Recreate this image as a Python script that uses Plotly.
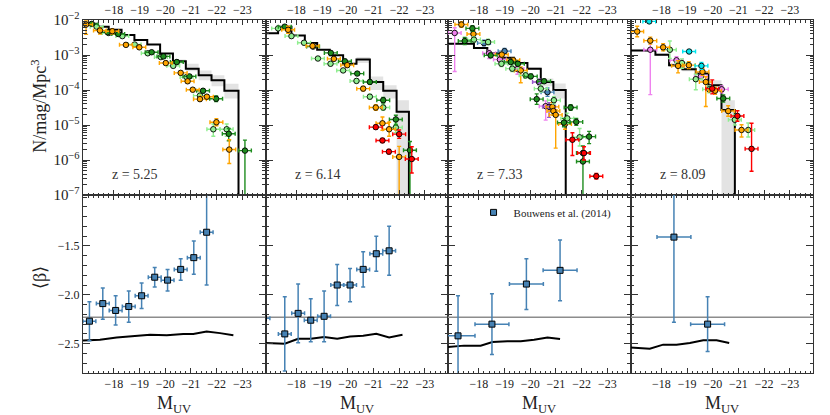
import numpy as np
import plotly.graph_objects as go
from plotly.subplots import make_subplots

FONT = "Liberation Serif"

## Redshift labels ##
z_labels = ["z = 5.25", "z = 6.14", "z = 7.33", "z = 8.09"]

## Model UV LF histograms (bin edges in M_UV, log10 N per bin, shaded band) ##
z1_edges = [-16.8, -17.3, -17.8, -18.3, -18.8, -19.3, -19.8, -20.3, -20.8, -21.3, -21.8, -22.3, -22.85]
z1_hist = [-2.11, -2.19, -2.28, -2.43, -2.57, -2.70, -2.96, -3.18, -3.39, -3.58, -3.72, -4.02]
z1_band_hi = [-2.10, -2.18, -2.27, -2.42, -2.56, -2.69, -2.94, -3.13, -3.25, -3.44, -3.58, -3.82]
z1_band_lo = [-2.12, -2.20, -2.29, -2.44, -2.58, -2.71, -2.98, -3.25, -3.46, -3.72, -3.89, -4.24]

z2_edges = [-16.8, -17.29, -17.81, -18.33, -18.81, -19.3, -19.82, -20.34, -20.86, -21.38, -21.9, -22.38]
z2_hist = [-2.38, -2.19, -2.44, -2.66, -2.85, -3.01, -3.25, -3.13, -3.77, -4.02, -4.62]
z2_band_hi = [-2.37, -2.18, -2.43, -2.65, -2.84, -3.00, -3.23, -3.06, -3.61, -3.86, -4.29]
z2_band_lo = [-2.39, -2.20, -2.45, -2.67, -2.86, -3.02, -3.27, -3.23, -4.00, -4.24, -9.0]

z3_edges = [-16.8, -17.29, -17.81, -18.33, -18.85, -19.37, -19.89, -20.41, -20.9, -21.38]
z3_hist = [-2.68, -2.68, -2.80, -2.95, -3.08, -3.23, -3.39, -3.77, -4.00]
z3_band_hi = [-2.66, -2.66, -2.78, -2.93, -3.06, -3.20, -3.35, -3.67, -3.81]
z3_band_lo = [-2.70, -2.70, -2.82, -2.97, -3.10, -3.26, -3.43, -3.89, -4.24]

z4_edges = [-16.8, -17.3, -17.77, -18.3, -18.82, -19.34, -19.83, -20.34, -20.86]
z4_hist = [-2.87, -2.87, -2.99, -3.29, -3.41, -3.53, -3.86, -4.57]
z4_band_hi = [-2.84, -2.84, -2.95, -3.24, -3.36, -3.48, -3.72, -4.29]
z4_band_lo = [-2.90, -2.90, -3.03, -3.34, -3.46, -3.58, -4.02, -9.0]

## Observed UV LF points (M_UV, log10 phi, upper / lower error in dex) ##
# z = 5.25
z1_orange_m = [-16.92, -17.46, -17.94, -18.47, -18.99, -20.02, -20.60, -20.87, -21.07, -21.35, -21.62, -21.99, -22.49]
z1_orange_lg = [-2.13, -2.30, -2.32, -2.71, -2.78, -3.23, -3.51, -3.75, -3.99, -4.26, -4.19, -4.92, -5.70]
z1_orange_eu = [0.10, 0.08, 0.07, 0.05, 0.06, 0.05, 0.05, 0.05, 0.05, 0.06, 0.06, 0.10, 0.28]
z1_orange_ed = [0.28, 0.10, 0.08, 0.05, 0.06, 0.05, 0.05, 0.05, 0.05, 0.06, 0.06, 0.10, 0.40]
z1_lgreen_m = [-17.33, -17.80, -18.33, -18.81, -19.32, -19.83, -20.31, -20.83, -21.35, -21.87, -22.39]
z1_lgreen_lg = [-2.19, -2.37, -2.46, -2.70, -2.95, -3.06, -3.31, -3.63, -4.16, -5.12, -5.12]
z1_lgreen_eu = [0.05, 0.05, 0.04, 0.04, 0.04, 0.04, 0.05, 0.05, 0.07, 0.15, 0.15]
z1_lgreen_ed = [0.05, 0.05, 0.04, 0.04, 0.04, 0.04, 0.05, 0.05, 0.07, 0.20, 0.20]
z1_dgreen_m = [-17.14, -17.76, -18.17, -19.47, -19.93, -20.45, -20.94, -21.47, -21.98, -22.47, -23.10]
z1_dgreen_lg = [-2.11, -2.35, -2.40, -2.92, -3.04, -3.20, -3.61, -4.02, -4.25, -5.25, -5.73]
z1_dgreen_eu = [0.04, 0.04, 0.04, 0.04, 0.04, 0.05, 0.05, 0.06, 0.08, 0.15, 0.30]
z1_dgreen_ed = [0.04, 0.04, 0.04, 0.04, 0.04, 0.05, 0.05, 0.06, 0.08, 0.20, 3.00]

# z = 6.14
z2_dgreen_m = [-17.55, -18.65, -19.34, -19.89, -20.37, -20.86, -21.38, -21.87, -22.42]
z2_dgreen_lg = [-2.19, -2.76, -2.94, -3.18, -3.53, -3.77, -4.29, -4.84, -5.72]
z2_dgreen_eu = [0.04, 0.04, 0.04, 0.05, 0.05, 0.06, 0.08, 0.12, 0.25]
z2_dgreen_ed = [0.04, 0.04, 0.04, 0.05, 0.05, 0.06, 0.08, 0.15, 3.00]
z2_lgreen_m = [-17.29, -17.81, -18.30, -18.84, -19.33, -19.82, -20.34, -20.86, -21.38, -21.87]
z2_lgreen_lg = [-2.24, -2.46, -2.65, -3.10, -3.25, -3.44, -3.74, -4.19, -4.50, -5.07]
z2_lgreen_eu = [0.05, 0.05, 0.05, 0.05, 0.05, 0.05, 0.06, 0.07, 0.08, 0.12]
z2_lgreen_ed = [0.05, 0.05, 0.05, 0.05, 0.05, 0.05, 0.06, 0.07, 0.08, 0.15]
z2_orange_m = [-17.68, -18.63, -19.46, -19.98, -20.60, -21.09, -21.35, -21.61, -22.00]
z2_orange_lg = [-2.28, -2.74, -3.11, -3.29, -3.96, -4.50, -4.95, -5.12, -5.91]
z2_orange_eu = [0.10, 0.06, 0.05, 0.05, 0.06, 0.08, 0.18, 0.20, 0.30]
z2_orange_ed = [0.10, 0.06, 0.05, 0.05, 0.06, 0.08, 0.20, 0.20, 1.30]
z2_red_m = [-21.09, -21.35, -21.60, -22.00, -22.49]
z2_red_lg = [-5.06, -5.44, -5.76, -5.26, -5.97]
z2_red_eu = [0.06, 0.06, 0.06, 0.12, 0.35]
z2_red_ed = [0.06, 0.06, 0.06, 0.12, 0.40]

# z = 7.33
z3_dgreen_m = [-17.45, -17.75, -18.46, -19.24, -19.52, -20.02, -20.25, -20.54, -21.31, -21.57, -21.79, -22.05, -22.05, -22.29]
z3_dgreen_lg = [-2.60, -2.24, -3.01, -3.20, -3.25, -3.61, -4.26, -3.75, -4.93, -4.50, -4.91, -5.80, -6.04, -5.33]
z3_dgreen_eu = [0.10, 0.08, 0.06, 0.05, 0.05, 0.06, 0.15, 0.06, 0.12, 0.08, 0.10, 0.20, 0.30, 0.15]
z3_dgreen_ed = [0.10, 0.08, 0.06, 0.05, 0.05, 0.06, 0.15, 0.06, 0.12, 0.08, 0.10, 0.20, 3.00, 0.20]
z3_lgreen_m = [-17.81, -18.36, -18.88, -19.30, -19.82, -20.41, -20.92, -21.44, -21.92]
z3_lgreen_lg = [-2.56, -2.63, -3.25, -3.39, -3.58, -3.96, -4.29, -4.81, -5.35]
z3_lgreen_eu = [0.08, 0.08, 0.08, 0.08, 0.08, 0.10, 0.10, 0.15, 0.25]
z3_lgreen_ed = [0.08, 0.08, 0.08, 0.08, 0.08, 0.10, 0.10, 0.15, 0.25]
z3_orange_m = [-17.32, -17.79, -18.89, -19.34, -19.63, -20.86, -20.90, -20.99, -21.35]
z3_orange_lg = [-2.13, -2.40, -2.99, -3.15, -3.44, -4.48, -4.60, -4.71, -4.97]
z3_orange_eu = [0.08, 0.10, 0.06, 0.06, 0.10, 0.12, 0.12, 0.15, 0.15]
z3_orange_ed = [0.08, 0.10, 0.06, 0.06, 0.35, 0.12, 0.12, 0.95, 0.15]
z3_violet_m = [-17.06, -18.40, -18.82, -19.50, -20.60]
z3_violet_lg = [-2.37, -2.95, -3.13, -3.40, -4.46]
z3_violet_eu = [0.15, 0.08, 0.08, 0.10, 0.15]
z3_violet_ed = [1.10, 0.15, 0.10, 0.15, 0.40]
z3_blue_m = [-18.20, -19.00, -20.67]
z3_blue_lg = [-2.66, -2.89, -4.06]
z3_blue_eu = [0.08, 0.08, 0.12]
z3_blue_ed = [0.08, 0.08, 0.12]
z3_purple_m = [-20.34, -20.73]
z3_purple_lg = [-3.77, -4.48]
z3_purple_eu = [0.08, 0.12]
z3_purple_ed = [0.08, 0.30]
z3_red_m = [-21.64, -22.09, -22.57]
z3_red_lg = [-5.42, -5.80, -6.46]
z3_red_eu = [0.20, 0.18, 0.08]
z3_red_ed = [0.45, 0.20, 0.08]

# z = 8.09
z4_orange_m = [-17.06, -17.57, -18.07, -18.65, -19.07, -19.60, -19.73, -20.09, -20.60, -21.12]
z4_orange_lg = [-2.33, -2.59, -2.78, -3.31, -3.29, -3.48, -3.77, -4.02, -4.60, -5.14]
z4_orange_eu = [0.15, 0.10, 0.10, 0.15, 0.10, 0.10, 0.15, 0.10, 0.15, 0.15]
z4_orange_ed = [0.15, 0.10, 0.10, 0.20, 0.10, 0.10, 0.70, 0.10, 0.15, 0.20]
z4_cyan_m = [-17.53, -19.08, -19.56]
z4_cyan_lg = [-2.04, -2.90, -3.31]
z4_cyan_eu = [0.05, 0.05, 0.10]
z4_cyan_ed = [0.05, 0.05, 0.10]
z4_lgreen_m = [-18.33, -18.80, -19.34, -19.86, -20.86, -21.38]
z4_lgreen_lg = [-2.85, -3.23, -3.69, -3.98, -4.85, -5.14]
z4_lgreen_eu = [0.25, 0.12, 0.15, 0.10, 0.15, 0.20]
z4_lgreen_ed = [0.25, 0.15, 0.30, 0.10, 0.15, 0.20]
z4_violet_m = [-17.57, -18.59, -19.54, -20.35]
z4_violet_lg = [-2.85, -3.15, -3.61, -3.98]
z4_violet_eu = [0.28, 0.10, 0.10, 0.10]
z4_violet_ed = [1.28, 0.10, 0.10, 0.10]
z4_dgreen_m = [-20.41]
z4_dgreen_lg = [-4.24]
z4_dgreen_eu = [0.10]
z4_dgreen_ed = [0.10]
z4_red_m = [-19.98, -20.96, -21.51]
z4_red_lg = [-3.96, -4.74, -5.68]
z4_red_eu = [0.25, 0.15, 0.73]
z4_red_ed = [0.15, 0.15, 0.64]

## UV slope: Bouwens et al. (2014) and model ##
b1_m = [-17.05, -17.57, -18.07, -18.58, -19.08, -19.59, -20.09, -20.60, -21.11, -21.61]
b1_beta = [-2.27, -2.09, -2.16, -2.12, -2.01, -1.82, -1.85, -1.74, -1.62, -1.36]
b1_err = [0.20, 0.16, 0.15, 0.16, 0.13, 0.10, 0.11, 0.11, 0.17, 0.54]
b2_m = [-16.72, -17.55, -18.07, -18.56, -19.08, -19.59, -20.09, -20.60, -21.11, -21.61]
b2_beta = [-2.24, -2.40, -2.19, -2.26, -2.22, -1.90, -1.90, -1.74, -1.58, -1.55]
b2_err = [0.27, 0.38, 0.30, 0.22, 0.26, 0.21, 0.17, 0.18, 0.18, 0.25]
b3_m = [-17.19, -18.51, -19.85, -21.16]
b3_beta = [-2.42, -2.30, -1.89, -1.75]
b3_err = [0.41, 0.31, 0.26, 0.31]
b4_m = [-18.49, -19.80]
b4_beta = [-1.41, -2.30]
b4_err = [0.87, 0.28]

mod1_m = [-16.8, -17.46, -18.11, -18.76, -19.41, -20.06, -20.7, -21.09, -21.61, -22.13, -22.65]
mod1_beta = [-2.467, -2.46, -2.436, -2.419, -2.409, -2.413, -2.40, -2.40, -2.375, -2.392, -2.413]
mod2_m = [-16.8, -17.55, -18.07, -18.56, -19.08, -19.59, -20.09, -20.6, -21.11, -21.61, -22.13]
mod2_beta = [-2.493, -2.50, -2.45, -2.45, -2.433, -2.45, -2.426, -2.419, -2.399, -2.436, -2.409]
mod3_m = [-16.8, -17.42, -18.07, -18.53, -19.11, -19.63, -20.15, -20.67, -21.16]
mod3_beta = [-2.534, -2.52, -2.52, -2.483, -2.476, -2.476, -2.46, -2.436, -2.453]
mod4_m = [-16.8, -17.55, -18.07, -18.59, -19.11, -19.63, -20.15, -20.64]
mod4_beta = [-2.538, -2.551, -2.51, -2.51, -2.493, -2.466, -2.466, -2.493]

beta_ref = -2.23
m_ticks = [-18, -19, -20, -21, -22, -23]

colors = dict(orange="#ffa500", lgreen="#90ee90", dgreen="#1e8c1e", red="#ff0000",
              violet="#ee82ee", blue="#4682b4", purple="#9b59d0", cyan="#00e5ee")

panels = [
    dict(edges=z1_edges, hist=z1_hist, hi=z1_band_hi, lo=z1_band_lo,
         pts=[("lgreen", z1_lgreen_m, z1_lgreen_lg, z1_lgreen_eu, z1_lgreen_ed),
              ("dgreen", z1_dgreen_m, z1_dgreen_lg, z1_dgreen_eu, z1_dgreen_ed),
              ("orange", z1_orange_m, z1_orange_lg, z1_orange_eu, z1_orange_ed)],
         bm=b1_m, bb=b1_beta, be=b1_err, bx=0.25, mm=mod1_m, mb=mod1_beta),
    dict(edges=z2_edges, hist=z2_hist, hi=z2_band_hi, lo=z2_band_lo,
         pts=[("lgreen", z2_lgreen_m, z2_lgreen_lg, z2_lgreen_eu, z2_lgreen_ed),
              ("dgreen", z2_dgreen_m, z2_dgreen_lg, z2_dgreen_eu, z2_dgreen_ed),
              ("orange", z2_orange_m, z2_orange_lg, z2_orange_eu, z2_orange_ed),
              ("red", z2_red_m, z2_red_lg, z2_red_eu, z2_red_ed)],
         bm=b2_m, bb=b2_beta, be=b2_err, bx=0.25, mm=mod2_m, mb=mod2_beta),
    dict(edges=z3_edges, hist=z3_hist, hi=z3_band_hi, lo=z3_band_lo,
         pts=[("violet", z3_violet_m, z3_violet_lg, z3_violet_eu, z3_violet_ed),
              ("blue", z3_blue_m, z3_blue_lg, z3_blue_eu, z3_blue_ed),
              ("purple", z3_purple_m, z3_purple_lg, z3_purple_eu, z3_purple_ed),
              ("orange", z3_orange_m, z3_orange_lg, z3_orange_eu, z3_orange_ed),
              ("lgreen", z3_lgreen_m, z3_lgreen_lg, z3_lgreen_eu, z3_lgreen_ed),
              ("dgreen", z3_dgreen_m, z3_dgreen_lg, z3_dgreen_eu, z3_dgreen_ed),
              ("red", z3_red_m, z3_red_lg, z3_red_eu, z3_red_ed)],
         bm=b3_m, bb=b3_beta, be=b3_err, bx=0.66, mm=mod3_m, mb=mod3_beta),
    dict(edges=z4_edges, hist=z4_hist, hi=z4_band_hi, lo=z4_band_lo,
         pts=[("violet", z4_violet_m, z4_violet_lg, z4_violet_eu, z4_violet_ed),
              ("lgreen", z4_lgreen_m, z4_lgreen_lg, z4_lgreen_eu, z4_lgreen_ed),
              ("dgreen", z4_dgreen_m, z4_dgreen_lg, z4_dgreen_eu, z4_dgreen_ed),
              ("orange", z4_orange_m, z4_orange_lg, z4_orange_eu, z4_orange_ed),
              ("cyan", z4_cyan_m, z4_cyan_lg, z4_cyan_eu, z4_cyan_ed),
              ("red", z4_red_m, z4_red_lg, z4_red_eu, z4_red_ed)],
         bm=b4_m, bb=b4_beta, be=b4_err, bx=0.66, mm=mod4_m, mb=mod4_beta),
]

fig = make_subplots(rows=2, cols=4, horizontal_spacing=0, vertical_spacing=0,
                    row_heights=[0.496, 0.504])

for i, p in enumerate(panels):
    c = i + 1
    edges = p["edges"]
    # shaded band + histogram (log10 -> linear), last value drops the line off the bottom
    hi = list(10 ** np.array(p["hi"] + [p["hi"][-1]]))
    lo = list(10 ** np.array(p["lo"] + [p["lo"][-1]]))
    fig.add_trace(go.Scatter(x=edges, y=hi, mode="lines", line=dict(width=0, shape="hv"),
                             showlegend=False, hoverinfo="skip"), row=1, col=c)
    fig.add_trace(go.Scatter(x=edges, y=lo, mode="lines", line=dict(width=0, shape="hv"),
                             fill="tonexty", fillcolor="rgba(0,0,0,0.11)",
                             showlegend=False, hoverinfo="skip"), row=1, col=c)
    hist = list(10 ** np.array(p["hist"] + [-9.0]))
    fig.add_trace(go.Scatter(x=edges, y=hist, mode="lines",
                             line=dict(color="black", width=2, shape="hv"),
                             showlegend=False), row=1, col=c)

    for name, m, lg, eu, ed in p["pts"]:
        lg = np.array(lg)
        phi = 10 ** lg
        col = colors[name]
        fig.add_trace(go.Scatter(
            x=m, y=phi, mode="markers", showlegend=False,
            marker=dict(size=5.5, color=col, line=dict(color="black", width=0.9)),
            error_y=dict(type="data", symmetric=False,
                         array=10 ** (lg + np.array(eu)) - phi,
                         arrayminus=phi - 10 ** (lg - np.array(ed)),
                         color=col, thickness=1.4, width=2),
            error_x=dict(type="constant", value=0.25, color=col, thickness=1.4, width=2),
        ), row=1, col=c)

    # bottom: beta
    fig.add_trace(go.Scatter(x=[-16.0, -24.5], y=[beta_ref, beta_ref], mode="lines",
                             line=dict(color="#8c8c8c", width=1.5), showlegend=False,
                             hoverinfo="skip"), row=2, col=c)
    fig.add_trace(go.Scatter(x=p["mm"], y=p["mb"], mode="lines",
                             line=dict(color="black", width=2), showlegend=False), row=2, col=c)
    fig.add_trace(go.Scatter(
        x=p["bm"], y=p["bb"], mode="markers", name="Bouwens et al. (2014)",
        showlegend=(c == 3),
        marker=dict(symbol="square", size=6, color="#4682b4", line=dict(color="black", width=1)),
        error_y=dict(type="data", array=p["be"], color="#4682b4", thickness=1.5, width=2),
        error_x=dict(type="constant", value=p["bx"], color="#4682b4", thickness=1.5, width=2),
    ), row=2, col=c)

axis_common = dict(showline=True, linecolor="#333", linewidth=1, mirror="ticks",
                   ticks="inside", tickcolor="#333", showgrid=False, zeroline=False,
                   automargin=False,
                   tickfont=dict(family=FONT, size=12, color="#222"))

for c in range(1, 5):
    fig.update_xaxes(row=1, col=c, range=[-16.8, -23.9], side="top", tickvals=m_ticks,
                     ticklen=5, minor=dict(dtick=0.2, ticks="inside", ticklen=2.5, tickcolor="#333"),
                     **axis_common)
    fig.update_xaxes(row=2, col=c, range=[-16.8, -23.9], tickvals=m_ticks, ticklen=5,
                     minor=dict(dtick=0.2, ticks="inside", ticklen=2.5, tickcolor="#333"),
                     **axis_common)
    fig.update_yaxes(row=1, col=c, type="log", range=[-7, -2], dtick=1, exponentformat="power",
                     ticklen=7, showticklabels=(c == 1),
                     minor=dict(dtick="D1", ticks="inside", ticklen=3.5, tickcolor="#333"),
                     **axis_common)
    fig.update_yaxes(row=2, col=c, range=[-2.8, -0.98], tickvals=[-1.5, -2.0, -2.5],
                     ticktext=["\u22121.5", "\u22122.0", "\u22122.5"], ticklen=7,
                     showticklabels=(c == 1),
                     minor=dict(dtick=0.1, tick0=0, ticks="inside", ticklen=3.5, tickcolor="#333"),
                     **axis_common)

annotations = []
for i, zl in enumerate(z_labels):
    xa = "x" if i == 0 else "x%d" % (i + 1)
    ya = "y" if i == 0 else "y%d" % (i + 1)
    annotations.append(dict(text=zl, xref=xa + " domain", yref=ya + " domain", x=0.15, y=0.12,
                            xanchor="left", yanchor="middle", showarrow=False,
                            font=dict(family=FONT, size=14, color="#333")))
    xb = "x%d" % (i + 5)
    annotations.append(dict(text="M<sub>UV</sub>", xref=xb + " domain", yref="paper",
                            x=0.5, y=-0.05, xanchor="center", yanchor="top", showarrow=False,
                            font=dict(family=FONT, size=18, color="#222")))
annotations.append(dict(text="N/mag/Mpc<sup>3</sup>", xref="paper", yref="paper",
                        x=-0.06, y=0.755, textangle=-90, showarrow=False,
                        xanchor="center", yanchor="middle",
                        font=dict(family=FONT, size=18, color="#222")))
annotations.append(dict(text="\u27e8\u03b2\u27e9", xref="paper", yref="paper",
                        x=-0.06, y=0.27, textangle=-90, showarrow=False,
                        xanchor="center", yanchor="middle",
                        font=dict(family=FONT, size=18, color="#222")))

fig.update_layout(
    width=830, height=415,
    margin=dict(l=83, r=17, t=20, b=42),
    plot_bgcolor="white", paper_bgcolor="white",
    annotations=annotations,
    showlegend=True,
    legend=dict(x=0.535, y=0.455, xanchor="left", yanchor="middle",
                bgcolor="rgba(0,0,0,0)", font=dict(family=FONT, size=11, color="#222")),
)

# drop the default page margin so the figure sits at the window origin
fig.write_html("out.html", config={"displayModeBar": False},
               post_script="document.body.style.margin='0';")
